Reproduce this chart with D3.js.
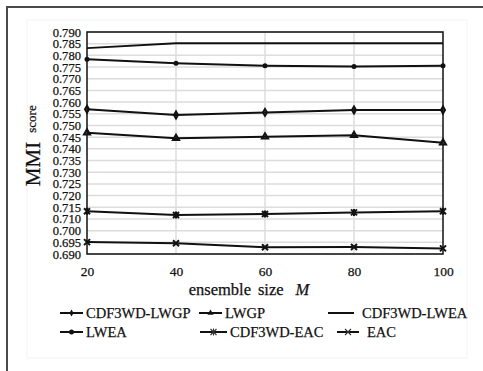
<!DOCTYPE html>
<html>
<head>
<meta charset="utf-8">
<script src="https://cdn.jsdelivr.net/npm/d3@7"></script>
<style>
  body { margin: 0; background: #fff; }
  svg, svg text { font-family: "Liberation Serif", "Times New Roman", serif !important; }
  svg text { stroke: #111; stroke-width: 0.25px; }
  .grid line { stroke: #dcdcdc; stroke-width: 1.5; }
  .series path { fill: none; stroke: #111; stroke-width: 2; }
</style>
</head>
<body>
<div id="chart"></div>
<script>
// ensemble sizes on the x axis
const ensembleSizes = [20, 40, 60, 80, 100];

// y tick labels as printed (0.705 is not on the original axis)
const yTickValues = [0.790, 0.785, 0.780, 0.775, 0.770, 0.765, 0.760, 0.755, 0.750,
  0.745, 0.740, 0.735, 0.730, 0.725, 0.720, 0.715, 0.710, 0.700, 0.695, 0.690];

const cdfLwgp = [0.7569, 0.7545, 0.7556, 0.7566, 0.7566];
const lwgp = [0.7469, 0.7445, 0.7452, 0.7458, 0.7426];
const cdfLwea = [0.7831, 0.7852, 0.7852, 0.7852, 0.7852];
const lwea = [0.7783, 0.7766, 0.7756, 0.7752, 0.7756];
const cdfEac = [0.7133, 0.7117, 0.7121, 0.7128, 0.7133];
const eac = [0.6951, 0.6946, 0.6929, 0.6930, 0.6924];

const seriesNames = ['CDF3WD-LWGP', 'LWGP', 'CDF3WD-LWEA', 'LWEA', 'CDF3WD-EAC', 'EAC'];
const seriesValues = [cdfLwgp, lwgp, cdfLwea, lwea, cdfEac, eac];
const seriesMarkers = ['diamond', 'triangle', 'none', 'circle', 'asterisk', 'cross'];

const width = 483;
const height = 371;
const plot = { left: 87, right: 443, top: 32, bottom: 254 };
const step = (plot.bottom - plot.top) / 19;

const x = d3.scaleLinear().domain([20, 100]).range([plot.left, plot.right]);
// piecewise: the printed axis jumps from 0.700 straight to 0.710 in one step
const y = d3.scaleLinear()
  .domain([0.690, 0.700, 0.710, 0.790])
  .range([plot.bottom, plot.bottom - 2 * step, plot.bottom - 3 * step, plot.top]);

const svg = d3.select('#chart').append('svg')
  .attr('width', width)
  .attr('height', height);

// outer frame (only the top and left edges are inside the picture)
svg.append('rect')
  .attr('x', 7).attr('y', 7)
  .attr('width', width + 10).attr('height', height + 10)
  .attr('fill', 'none').attr('stroke', '#4a4a4a').attr('stroke-width', 2);

// faint inner panel
svg.append('rect')
  .attr('x', 27).attr('y', 20)
  .attr('width', 440).attr('height', 338)
  .attr('fill', 'none').attr('stroke', '#f3f3f3').attr('stroke-width', 1);

// grid
const grid = svg.append('g').attr('class', 'grid');
grid.selectAll('.h').data(yTickValues).join('line')
  .attr('class', 'h')
  .attr('x1', plot.left).attr('x2', plot.right)
  .attr('y1', (d) => y(d)).attr('y2', (d) => y(d));
grid.selectAll('.v').data(ensembleSizes.slice(1, -1)).join('line')
  .attr('class', 'v')
  .attr('y1', plot.top).attr('y2', plot.bottom)
  .attr('x1', (d) => x(d)).attr('x2', (d) => x(d));

// axes
const yAxis = svg.append('g')
  .attr('transform', `translate(${plot.left},0)`)
  .call(d3.axisLeft(y).tickValues(yTickValues).tickFormat(d3.format('.3f')).tickSize(0).tickPadding(6));
yAxis.select('.domain').remove();
yAxis.selectAll('text')
  .style('font-size', '12.6px')
  .attr('fill', '#111');

const xAxis = svg.append('g')
  .attr('transform', `translate(0,${plot.bottom})`)
  .call(d3.axisBottom(x).tickValues(ensembleSizes).tickFormat(d3.format('d')).tickSize(0).tickPadding(12));
xAxis.select('.domain').remove();
xAxis.selectAll('text')
  .style('font-size', '13.5px')
  .attr('fill', '#111');

// plot border
svg.append('rect')
  .attr('x', plot.left).attr('y', plot.top)
  .attr('width', plot.right - plot.left).attr('height', plot.bottom - plot.top)
  .attr('fill', 'none').attr('stroke', '#111').attr('stroke-width', 1.5);

function drawMarker(g, type) {
  if (type === 'circle') {
    g.append('circle').attr('r', 2.5).attr('fill', '#111');
  } else if (type === 'diamond') {
    g.append('path').attr('d', d3.symbol(d3.symbolDiamond, 14)()).attr('fill', '#111');
  } else if (type === 'triangle') {
    g.append('path').attr('d', d3.symbol(d3.symbolTriangle, 16)()).attr('fill', '#111');
  } else if (type === 'cross') {
    g.append('path').attr('d', 'M-3,-3L3,3M-3,3L3,-3')
      .attr('stroke', '#333').attr('stroke-width', 1.1).attr('fill', 'none');
  } else if (type === 'asterisk') {
    g.append('path').attr('d', 'M-3,-3L3,3M-3,3L3,-3M0,-3.5L0,3.5')
      .attr('stroke', '#333').attr('stroke-width', 1.1).attr('fill', 'none');
  }
}

const line = d3.line()
  .x((d, i) => x(ensembleSizes[i]))
  .y((d) => y(d));

const series = svg.append('g').attr('class', 'series')
  .selectAll('g').data(seriesValues).join('g');
series.append('path').attr('d', (d) => line(d));
series.each(function (values, k) {
  d3.select(this).selectAll('.mk').data(values).join('g')
    .attr('class', 'mk')
    .attr('transform', (d, i) => `translate(${x(ensembleSizes[i])},${y(d)})`)
    .each(function () { drawMarker(d3.select(this), seriesMarkers[k]); });
});

// axis titles
svg.append('text')
  .attr('transform', 'translate(40,164) rotate(-90)')
  .attr('text-anchor', 'middle')
  .style('font-size', '21px')
  .attr('fill', '#111')
  .text('MMI');
svg.append('text')
  .attr('transform', 'translate(35.5,119) rotate(-90)')
  .attr('text-anchor', 'middle')
  .style('font-size', '13px')
  .attr('fill', '#111')
  .text('score');

const xTitle = svg.append('text')
  .attr('x', 249).attr('y', 295)
  .attr('text-anchor', 'middle')
  .style('font-size', '16.5px')
  .attr('fill', '#111');
xTitle.append('tspan').text('ensemble');
xTitle.append('tspan').attr('dx', 7).text('size');
xTitle.append('tspan').attr('dx', 12).style('font-style', 'italic').text('M');

// legend
const legendPos = [
  { x: 60, y: 313, len: 23 },
  { x: 199, y: 313, len: 23 },
  { x: 328, y: 313, len: 26 },
  { x: 60, y: 332, len: 23 },
  { x: 200, y: 332, len: 27 },
  { x: 337, y: 332, len: 22 },
];
const legend = svg.append('g').selectAll('g').data(seriesNames).join('g')
  .attr('transform', (d, i) => `translate(${legendPos[i].x},${legendPos[i].y})`);
legend.append('line')
  .attr('x1', 0).attr('x2', (d, i) => legendPos[i].len)
  .attr('stroke', '#111').attr('stroke-width', 2);
legend.each(function (d, i) {
  const m = d3.select(this).append('g').attr('transform', `translate(${legendPos[i].len / 2},0)`);
  drawMarker(m, seriesMarkers[i]);
});
legend.append('text')
  .attr('x', (d, i) => (i === 2 || i === 5 ? legendPos[i].len + 8 : legendPos[i].len + 3))
  .attr('dy', '0.35em')
  .style('font-size', '14.5px')
  .attr('fill', '#111')
  .text((d) => d);
</script>
</body>
</html>
